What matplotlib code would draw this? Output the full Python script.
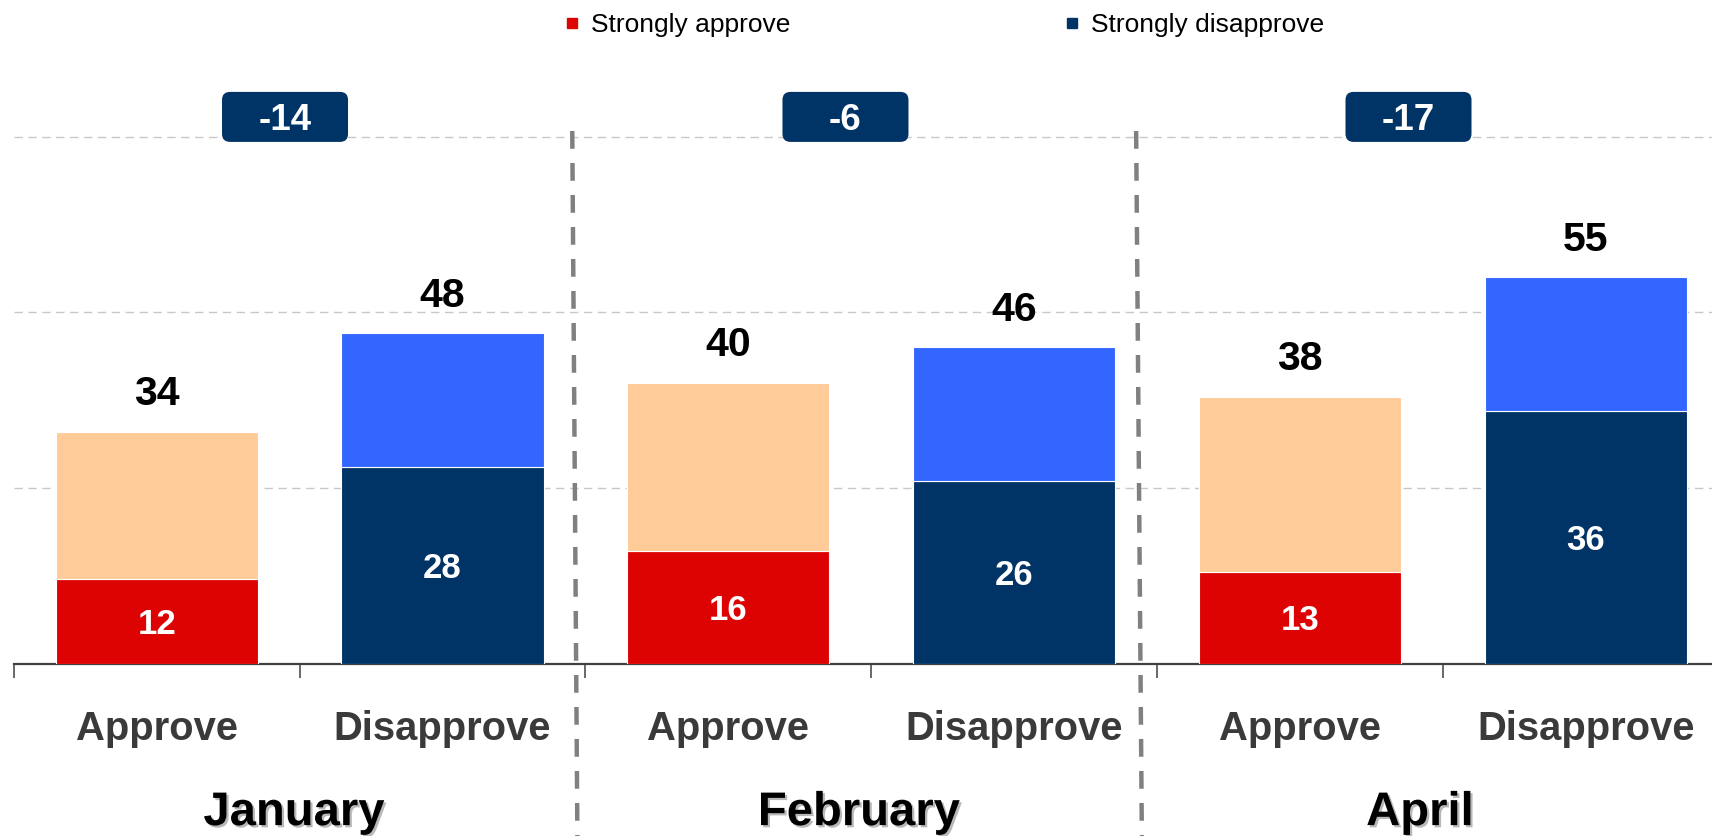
import numpy as np
import matplotlib
matplotlib.use("Agg")
import matplotlib.pyplot as plt
import matplotlib.transforms as mtransforms
import matplotlib.patheffects as pe
from matplotlib.patches import FancyBboxPatch
from matplotlib.lines import Line2D

# ---------------- data ----------------
months = ["January", "February", "April"]
categories = ["Approve", "Disapprove", "Approve", "Disapprove", "Approve", "Disapprove"]
strongly = [12, 28, 16, 26, 13, 36]
somewhat = [21, 19, 24, 19, 25, 19]
totals = [34, 48, 40, 46, 38, 55]
net = [-14, -6, -17]
legend_labels = ["Strongly approve", "Strongly disapprove"]

# ---------------- style ----------------
RED = "#DD0303"
PEACH = "#FFCC99"
NAVY = "#003366"
BLUE = "#3366FF"
strong_colors = [RED, NAVY] * 3
soft_colors = [PEACH, BLUE] * 3

plt.rcParams["font.family"] = ["Liberation Sans", "DejaVu Sans"]

W, H = 1712, 836
fig = plt.figure(figsize=(W / 100, H / 100), dpi=100)

ax_left_px = 13.8
base_px = 663.6
ppu = 7.027          # pixels per unit
cat_px = 285.8       # pixels per category
ymax = 80
ax = fig.add_axes([ax_left_px / W, (H - base_px) / H, 1 - ax_left_px / W, ymax * ppu / H])

x = np.arange(len(categories))
bw = 0.707
ax.bar(x, strongly, width=bw, color=strong_colors, edgecolor="white", linewidth=0.8, zorder=3)
ax.bar(x, somewhat, width=bw, bottom=strongly, color=soft_colors, edgecolor="white",
       linewidth=0.8, zorder=3)

# grid
ax.set_yticks([25, 50, 75])
ax.yaxis.grid(True, linestyle=(0, (6, 4)), color="#C8C8C8", linewidth=1.0)
ax.set_axisbelow(True)
ax.tick_params(axis="y", length=0, labelleft=False)

for s in ["left", "top", "right"]:
    ax.spines[s].set_visible(False)
ax.spines["bottom"].set_color("#404040")
ax.spines["bottom"].set_linewidth(1.6)

ax.set_xticks(np.arange(-0.5, len(categories) - 0.5, 1.0))
ax.set_xticklabels([])
ax.tick_params(axis="x", length=10, width=1.1, color="#404040", direction="out")

# category labels
for i, lab in enumerate(categories):
    ax.annotate(lab, xy=(i, 0), xytext=(0, -76.4 * 0.72), textcoords="offset points",
                ha="center", va="baseline", fontsize=28.8, fontweight="bold",
                color="#3a3a3a", annotation_clip=False)

# month labels with shadow
month_x = [0.480, 2.457, 4.420]
for mx, m in zip(month_x, months):
    ax.annotate(m, xy=(mx, 0), xytext=(0, -161.5 * 0.72), textcoords="offset points",
                ha="center", va="baseline", fontsize=34, fontweight="bold", color="black",
                annotation_clip=False,
                path_effects=[pe.withSimplePatchShadow(offset=(1.6, -1.6),
                                                       shadow_rgbFace="#9a9a9a", alpha=0.7)])

# totals above bars
for i, (s, w, t) in enumerate(zip(strongly, somewhat, totals)):
    ax.annotate(str(t), xy=(i, s + w), xytext=(0, 26.5 * 0.72), textcoords="offset points",
                ha="center", va="baseline", fontsize=29.5, fontweight="bold", color="black",
                annotation_clip=False)

# strongly values inside bars
fs_in = 25
for i, s in enumerate(strongly):
    ax.annotate(str(s), xy=(i, s / 2), xytext=(0, -0.716 * fs_in / 2), textcoords="offset points",
                ha="center", va="baseline", fontsize=fs_in, fontweight="bold", color="white",
                zorder=5)

# net boxes
box_x = [0.449, 2.41, 4.38]
box_y = 77.8
fs_net = 26.5
for bx, n in zip(box_x, net):
    trans = fig.dpi_scale_trans + mtransforms.ScaledTranslation(bx, box_y, ax.transData)
    patch = FancyBboxPatch((-0.63, -0.25), 1.26, 0.50,
                           boxstyle="round,pad=0,rounding_size=0.08",
                           fc=NAVY, ec="none", transform=trans, clip_on=False, zorder=6)
    ax.add_patch(patch)
    ax.annotate(f"{n}", xy=(bx, box_y), xytext=(0, -0.716 * fs_net / 2), textcoords="offset points",
                ha="center", va="baseline", fontsize=fs_net, fontweight="bold", color="white",
                annotation_clip=False, zorder=7)

# dashed separators between months
sep_trans = mtransforms.blended_transform_factory(ax.transData, fig.transFigure)
sep_lines = [(1.454, 1.472), (3.427, 3.447)]
for xt, xb in sep_lines:
    ln = Line2D([xt, xb], [1 - 131 / H, 0], transform=sep_trans, color="#808080",
                linewidth=3.2, linestyle=(0, (4.0, 3.2)), clip_on=False, zorder=4)
    ax.add_line(ln)

ax.set_xlim(-0.5, -0.5 + (W - ax_left_px) / cat_px)
ax.set_ylim(0, ymax)

# legend
handles = [Line2D([], [], marker="s", linestyle="none", markersize=7.8, color=RED),
           Line2D([], [], marker="s", linestyle="none", markersize=7.8, color=NAVY)]
fig.legend(handles, legend_labels, loc="center left", bbox_to_anchor=(567 / W, 1 - 25 / H),
           ncol=2, frameon=False, fontsize=19, handlelength=0.4, handletextpad=0.5,
           columnspacing=10.5, borderpad=0, borderaxespad=0)

fig.savefig("out.png", dpi=100)
